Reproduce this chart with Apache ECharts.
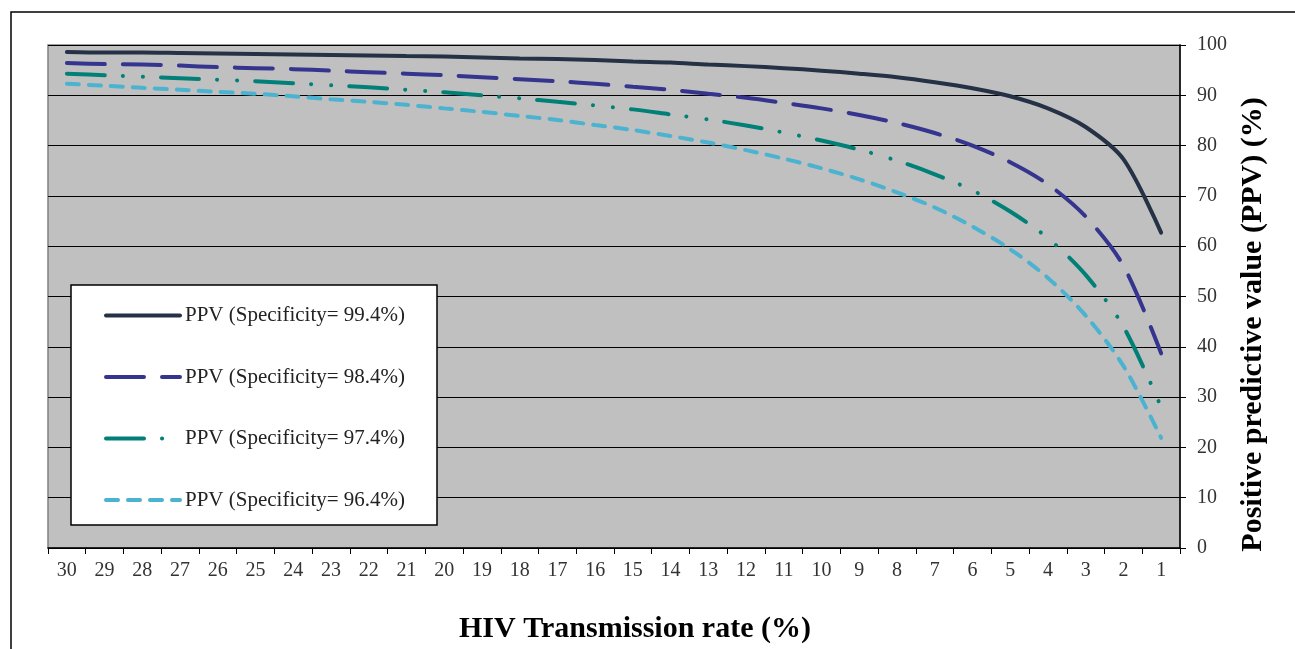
<!DOCTYPE html>
<html>
<head>
<meta charset="utf-8">
<script src="https://cdn.jsdelivr.net/npm/echarts@6/dist/echarts.min.js"></script>
<style>
html,body{margin:0;padding:0;background:#fff;}
#chart{width:1295px;height:649px;}
</style>
</head>
<body>
<div id="chart"></div>
<script>
// HIV transmission rate (%) categories, shown 30 -> 1
const categories = ["30","29","28","27","26","25","24","23","22","21","20","19","18","17","16","15","14","13","12","11","10","9","8","7","6","5","4","3","2","1"];
const yTicks = [0,10,20,30,40,50,60,70,80,90,100];
const seriesNames = ["PPV (Specificity= 99.4%)","PPV (Specificity= 98.4%)","PPV (Specificity= 97.4%)","PPV (Specificity= 96.4%)"];
const ppv994 = [98.6,98.5,98.5,98.4,98.3,98.2,98.1,98.0,97.9,97.8,97.7,97.5,97.3,97.2,97.0,96.7,96.5,96.1,95.8,95.4,94.9,94.3,93.6,92.6,91.4,89.8,87.4,83.7,77.3,62.7];
const ppv984 = [96.4,96.2,96.1,95.9,95.6,95.4,95.2,94.9,94.6,94.3,94.0,93.6,93.2,92.8,92.3,91.7,91.1,90.3,89.5,88.5,87.4,86.1,84.5,82.5,80.0,76.7,72.3,65.9,56.1,38.7];
const ppv974 = [94.3,94.0,93.7,93.4,93.1,92.8,92.4,92.0,91.6,91.1,90.6,90.0,89.4,88.7,88.0,87.2,86.2,85.2,84.0,82.6,81.0,79.2,77.0,74.3,71.1,66.9,61.6,54.3,44.0,28.0];
const ppv964 = [92.3,91.9,91.5,91.1,90.7,90.3,89.8,89.2,88.7,88.1,87.4,86.7,85.9,85.1,84.1,83.1,81.9,80.6,79.1,77.4,75.5,73.3,70.7,67.7,63.9,59.4,53.7,46.2,36.2,21.9];

const FONT = "Liberation Serif";
const chart = echarts.init(document.getElementById('chart'));
const option = {
  animation: false,
  backgroundColor: '#ffffff',
  graphic: [
    { type: 'rect', shape: { x: 11, y: 12, width: 1320, height: 680 }, style: { fill: 'none', stroke: '#000', lineWidth: 1.5 }, z: -10 },
    { type: 'rect', shape: { x: 71, y: 285, width: 366, height: 240 }, style: { fill: '#ffffff', stroke: '#000', lineWidth: 1.5 }, z: 50 }
  ],
  grid: { left: 48, right: 115, top: 45, bottom: 99, show: true, backgroundColor: '#c0c0c0', borderColor: '#808080', borderWidth: 1.5 },
  legend: {
    orient: 'vertical', left: 99, top: 300, itemWidth: 74, itemHeight: 24, itemGap: 40.5,
    textStyle: { fontFamily: FONT, fontSize: 21, color: '#222' },
    itemStyle: { opacity: 0 },
    lineStyle: { width: 4 },
    z: 60,
    data: seriesNames
  },
  xAxis: {
    type: 'category', data: categories, boundaryGap: true,
    name: 'HIV Transmission rate (%)', nameLocation: 'middle', nameGap: 66,
    nameTextStyle: { fontFamily: FONT, fontSize: 30, fontWeight: 'bold', color: '#000', padding: [0, 0, 0, 42] },
    axisLine: { lineStyle: { color: '#000', width: 1.5 } },
    axisTick: { show: true, alignWithLabel: false, length: 6, lineStyle: { color: '#000' } },
    axisLabel: { fontFamily: FONT, fontSize: 20, color: '#333', margin: 13, interval: 0 },
    splitLine: { show: false }
  },
  yAxis: {
    type: 'value', position: 'right', min: 0, max: 100, interval: 10,
    name: 'Positive predictive value (PPV) (%)', nameLocation: 'middle', nameGap: 58, nameRotate: 90,
    nameTextStyle: { fontFamily: FONT, fontSize: 30, fontWeight: 'bold', color: '#000', padding: [0, 56, 0, 0] },
    axisLine: { show: true, lineStyle: { color: '#000', width: 1.5 } },
    axisTick: { show: true, length: 6, lineStyle: { color: '#000' } },
    axisLabel: { fontFamily: FONT, fontSize: 20, color: '#333', margin: 17, formatter: function (v) { return yTicks.indexOf(v) >= 0 ? String(v) : ''; } },
    splitLine: { show: true, lineStyle: { color: '#000', width: 1 } }
  },
  series: [
    { name: seriesNames[0], type: 'line', data: ppv994, symbol: 'none', smooth: 0.3,
      lineStyle: { color: '#253246', width: 4, cap: 'round' }, itemStyle: { color: '#253246' } },
    { name: seriesNames[1], type: 'line', data: ppv984, symbol: 'none', smooth: 0.3,
      lineStyle: { color: '#35358f', width: 4, cap: 'round', type: [38, 18] }, itemStyle: { color: '#35358f' } },
    { name: seriesNames[2], type: 'line', data: ppv974, symbol: 'none', smooth: 0.3,
      lineStyle: { color: '#008077', width: 4, cap: 'round', type: [38, 18, 0.1, 20, 0.1, 18] }, itemStyle: { color: '#008077' } },
    { name: seriesNames[3], type: 'line', data: ppv964, symbol: 'none', smooth: 0.3,
      lineStyle: { color: '#4bb3cf', width: 4, cap: 'round', type: [12, 10] }, itemStyle: { color: '#4bb3cf' } }
  ]
};
chart.setOption(option);
</script>
</body>
</html>
